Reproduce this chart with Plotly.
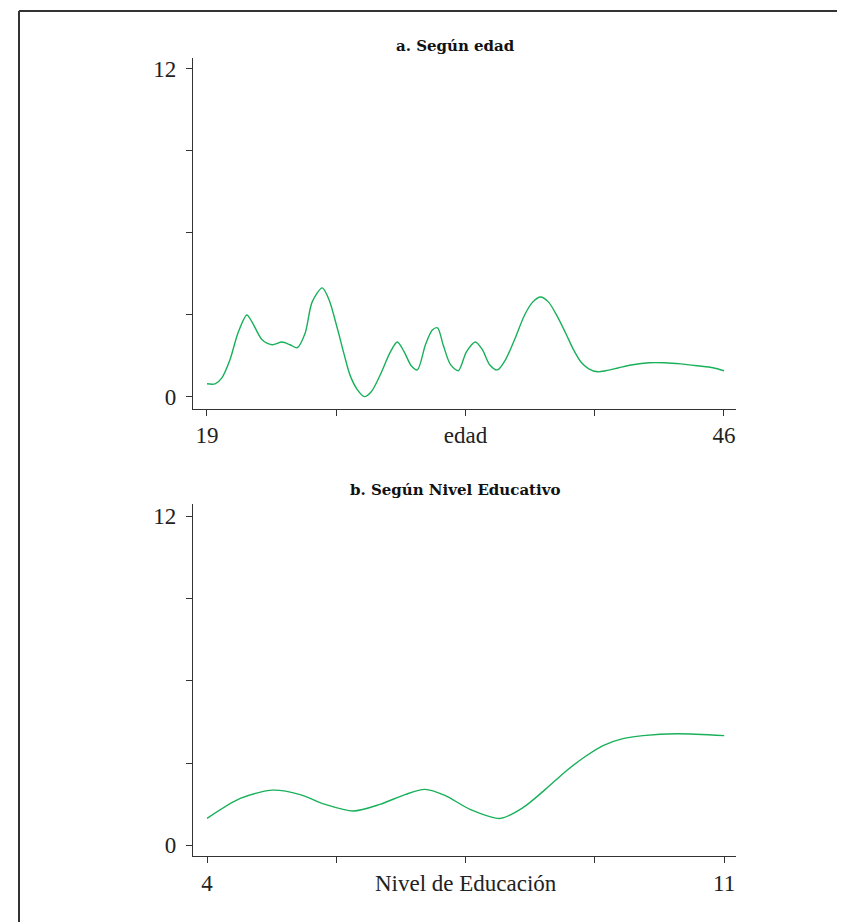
import plotly.graph_objects as go

# Panel a: según edad
edad = [19.0, 19.42, 19.78, 20.2, 20.62, 21.08, 21.35, 21.88, 22.4, 22.92, 23.34, 23.71,
        24.13, 24.49, 25.02, 25.38, 25.8, 26.17, 26.48, 26.85, 27.22, 27.58, 28.05, 28.58,
        28.94, 29.3, 29.67, 29.99, 30.41, 30.77, 31.04, 31.35, 31.72, 32.13, 32.55, 33.02,
        33.39, 33.76, 34.17, 34.59, 35.06, 35.59, 36.01, 36.42, 36.84, 37.31, 37.73, 38.15,
        38.52, 38.94, 39.41, 39.83, 40.51, 41.24, 42.08, 42.91, 43.75, 44.64, 45.43, 46.0]
valor_edad = [0.47, 0.47, 0.69, 1.35, 2.33, 2.99, 2.74, 2.08, 1.90, 2.0, 1.90, 1.79,
              2.33, 3.46, 3.98, 3.54, 2.52, 1.53, 0.77, 0.26, 0.0, 0.18, 0.80, 1.64,
              2.0, 1.64, 1.13, 0.98, 1.9, 2.44, 2.52, 1.86, 1.17, 0.95, 1.64, 2.0,
              1.71, 1.17, 0.98, 1.35, 2.08, 2.99, 3.46, 3.65, 3.46, 2.92, 2.33, 1.71,
              1.28, 1.02, 0.91, 0.95, 1.06, 1.17, 1.24, 1.24, 1.20, 1.13, 1.06, 0.95]

# Panel b: según nivel educativo
educ = [4.0, 4.45, 4.89, 5.26, 5.6, 5.98, 6.34, 6.68, 6.95, 7.22, 7.56, 7.97,
        8.28, 8.58, 8.87, 9.12, 9.36, 9.63, 9.9, 10.36, 11.0]
valor_educ = [0.98, 1.71, 2.01, 1.85, 1.49, 1.25, 1.49, 1.85, 2.04, 1.82, 1.31, 0.98,
              1.38, 2.04, 2.73, 3.24, 3.64, 3.89, 4.0, 4.07, 4.0]

xa_ticks = [19, 25.75, 32.5, 39.25, 46]
xa_text = ["19", "", "edad", "", "46"]
xb_ticks = [4, 5.75, 7.5, 9.25, 11]
xb_text = ["4", "", "Nivel de Educación", "", "11"]
y_ticks = [0, 3, 6, 9, 12]
y_text = ["0", "", "", "", "12"]

titulo_a = "a. Según edad"
titulo_b = "b. Según Nivel Educativo"

GREEN = "#19b05a"
AX = "#333333"
FONT = "Liberation Serif"
TFONT = "DejaVu Serif"

fig = go.Figure()
fig.add_trace(go.Scatter(x=edad, y=valor_edad, mode="lines",
                         line=dict(color=GREEN, width=1.4, shape="spline", smoothing=0.8),
                         xaxis="x", yaxis="y", showlegend=False))
fig.add_trace(go.Scatter(x=educ, y=valor_educ, mode="lines",
                         line=dict(color=GREEN, width=1.4, shape="spline", smoothing=0.8),
                         xaxis="x2", yaxis="y2", showlegend=False))

axis_common = dict(showline=True, linecolor=AX, linewidth=1.3, ticks="outside", ticklen=6,
                   tickcolor=AX, tickwidth=1.2, showgrid=False, zeroline=False,
                   tickfont=dict(family=FONT, size=23, color="#222222"))

# page has an 8px body margin; reference pixel coords are shifted accordingly
OFF = 8
W, H = 845 - OFF, 924 - OFF
def fx(px): return (px - OFF) / W
def fy(py): return (H - (py - OFF)) / H

fig.update_layout(
    width=W, height=H,
    margin=dict(l=0, r=0, t=0, b=0),
    paper_bgcolor="white", plot_bgcolor="white",
    xaxis=dict(domain=[fx(193), fx(736)], range=[18.27, 46.63], tickmode="array",
               tickvals=xa_ticks, ticktext=xa_text, anchor="y", **axis_common),
    yaxis=dict(domain=[fy(409), fy(57)], range=[-0.44, 12.40], tickmode="array",
               tickvals=y_ticks, ticktext=y_text, anchor="x", ticklabelstandoff=5, **axis_common),
    xaxis2=dict(domain=[fx(193), fx(736)], range=[3.81, 11.16], tickmode="array",
                tickvals=xb_ticks, ticktext=xb_text, anchor="y2", **axis_common),
    yaxis2=dict(domain=[fy(858), fy(505)], range=[-0.40, 12.44], tickmode="array",
                tickvals=y_ticks, ticktext=y_text, anchor="x2", ticklabelstandoff=5, **axis_common),
    annotations=[
        dict(text="<b>" + titulo_a + "</b>", x=fx(455), y=fy(45), xref="paper", yref="paper",
             showarrow=False, xanchor="center", yanchor="middle",
             font=dict(family=TFONT, size=15, color="#111111")),
        dict(text="<b>" + titulo_b + "</b>", x=fx(455), y=fy(491), xref="paper", yref="paper",
             showarrow=False, xanchor="center", yanchor="middle",
             font=dict(family=TFONT, size=15, color="#111111")),
    ],
    shapes=[
        dict(type="line", xref="paper", yref="paper", x0=fx(19), x1=fx(19), y0=fy(10), y1=0,
             line=dict(color=AX, width=2)),
        dict(type="line", xref="paper", yref="paper", x0=fx(19), x1=1, y0=fy(10), y1=fy(10),
             line=dict(color=AX, width=2)),
    ],
)

fig.write_html("out.html")
